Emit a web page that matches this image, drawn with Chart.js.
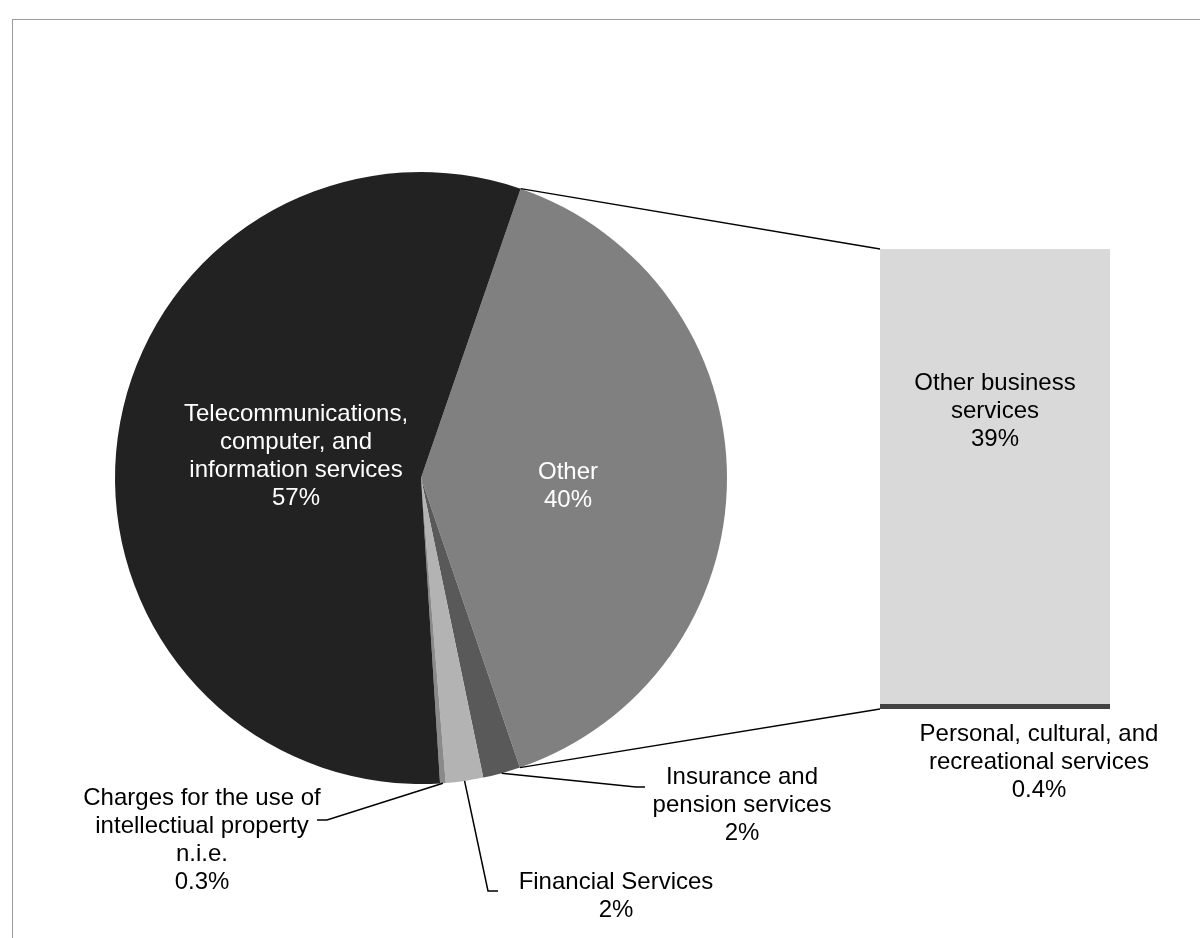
<!DOCTYPE html>
<html>
<head>
<meta charset="utf-8">
<title>Services breakdown</title>
<script src="https://cdn.jsdelivr.net/npm/chart.js@4.4.1/dist/chart.umd.min.js"></script>
<style>
  html, body { margin: 0; padding: 0; background: #fff; }
  #wrap { position: relative; width: 1200px; height: 938px; overflow: hidden; }
  #frame { position: absolute; left: 12px; top: 19px; right: -4px; bottom: -4px; border: 1px solid #9a9a9a; }
  canvas { position: absolute; left: 0; top: 0; }
</style>
</head>
<body>
<div id="wrap">
  <div id="frame"></div>
  <canvas id="pieChart" width="1200" height="938"></canvas>
  <canvas id="barChart" width="1200" height="938"></canvas>
</div>
<script>
// pie slices, clockwise starting with the "Other" slice
const pieCategories = [
    ['Other'],
    ['Insurance and', 'pension services'],
    ['Financial Services'],
    ['Charges for the use of', 'intellectiual property', 'n.i.e.'],
    ['Telecommunications,', 'computer, and', 'information services']
];
const pieValues = [40, 2, 2, 0.3, 57];
const pieColors = ['#808080', '#595959', '#b3b3b3', '#8a8a8a', '#222222'];

// breakdown of "Other", bottom to top
const barCategories = [
    ['Personal, cultural, and', 'recreational services'],
    ['Other business', 'services']
];
const barValues = [0.4, 39];
const barColors = ['#434343', '#d9d9d9'];

const FONT = '24px "Liberation Sans", Arial, sans-serif';
const LINE_H = 28;

function pct(v) {
    return v + '%';
}

function drawLines(ctx, lines, x, y, color) {
    ctx.fillStyle = color;
    lines.forEach((t, i) => ctx.fillText(t, x, y + i * LINE_H));
}

function edgePoint(arc, angle) {
    return { x: arc.x + Math.cos(angle) * arc.outerRadius, y: arc.y + Math.sin(angle) * arc.outerRadius };
}

function stroke(ctx, pts, width) {
    ctx.beginPath();
    ctx.moveTo(pts[0].x, pts[0].y);
    pts.slice(1).forEach(p => ctx.lineTo(p.x, p.y));
    ctx.lineWidth = width;
    ctx.strokeStyle = '#000';
    ctx.stroke();
}

const pieChart = new Chart(document.getElementById('pieChart').getContext('2d'), {
    type: 'pie',
    data: {
        labels: pieCategories,
        datasets: [{
            data: pieValues,
            backgroundColor: pieColors,
            borderWidth: 0
        }]
    },
    options: {
        responsive: false,
        animation: false,
        rotation: 19,
        layout: { padding: { left: 115, right: 473, top: 172, bottom: 154 } },
        plugins: { legend: { display: false }, tooltip: { enabled: false } }
    }
});

// connectors, leader lines and all labels are drawn on top by the bar chart
const overlay = {
    id: 'overlay',
    afterDraw(chart) {
        const ctx = chart.ctx;
        const arcs = pieChart.getDatasetMeta(0).data;
        const lowBar = chart.getDatasetMeta(0).data[0];
        const topBar = chart.getDatasetMeta(1).data[0];
        const barLeft = topBar.x - topBar.width / 2;
        const barRight = topBar.x + topBar.width / 2;
        const barMid = (barLeft + barRight) / 2;

        ctx.save();

        // lines from the "Other" slice to the breakdown bar
        const other = arcs[0];
        stroke(ctx, [edgePoint(other, other.startAngle), { x: barLeft, y: topBar.y }], 1.3);
        stroke(ctx, [edgePoint(other, other.endAngle), { x: barLeft, y: lowBar.base }], 1.3);

        // leader lines for the thin slices
        const mid = a => (a.startAngle + a.endAngle) / 2;
        stroke(ctx, [edgePoint(arcs[1], mid(arcs[1])), { x: 636, y: 787 }, { x: 645, y: 787 }], 1.5);
        stroke(ctx, [edgePoint(arcs[2], mid(arcs[2])), { x: 488, y: 891 }, { x: 498, y: 891 }], 1.5);
        stroke(ctx, [edgePoint(arcs[3], mid(arcs[3])), { x: 327, y: 820 }, { x: 317, y: 820 }], 1.5);

        ctx.font = FONT;
        ctx.textAlign = 'center';
        ctx.textBaseline = 'middle';

        drawLines(ctx, pieCategories[4].concat(pct(pieValues[4])), 296, 414, '#ffffff');
        drawLines(ctx, pieCategories[0].concat(pct(pieValues[0])), 568, 472, '#ffffff');
        drawLines(ctx, pieCategories[1].concat(pct(pieValues[1])), 742, 777, '#000000');
        drawLines(ctx, pieCategories[2].concat(pct(pieValues[2])), 616, 882, '#000000');
        drawLines(ctx, pieCategories[3].concat(pct(pieValues[3])), 202, 798, '#000000');

        drawLines(ctx, barCategories[1].concat(pct(barValues[1])), barMid, 383, '#000000');
        drawLines(ctx, barCategories[0].concat(pct(barValues[0])), 1039, 734, '#000000');

        ctx.restore();
    }
};

const barChart = new Chart(document.getElementById('barChart').getContext('2d'), {
    type: 'bar',
    data: {
        labels: [''],
        datasets: barValues.map((v, i) => ({
            label: barCategories[i].join(' '),
            data: [v],
            backgroundColor: barColors[i],
            borderWidth: 0,
            barPercentage: 1,
            categoryPercentage: 1
        }))
    },
    options: {
        responsive: false,
        animation: false,
        layout: { padding: { left: 880, right: 90, top: 249, bottom: 229 } },
        scales: {
            x: { stacked: true, display: false },
            y: { stacked: true, display: false, min: 0, max: barValues.reduce((a, b) => a + b, 0) }
        },
        plugins: { legend: { display: false }, tooltip: { enabled: false } }
    },
    plugins: [overlay]
});
</script>
</body>
</html>
